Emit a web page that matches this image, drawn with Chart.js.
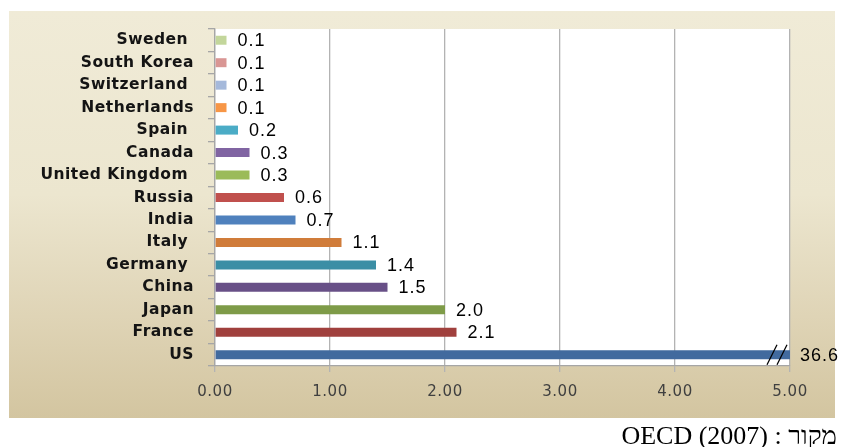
<!DOCTYPE html>
<html>
<head>
<meta charset="utf-8">
<title>R&D</title>
<script src="https://cdn.jsdelivr.net/npm/chart.js@4.4.1/dist/chart.umd.min.js"></script>
<style>
    html, body { margin: 0; padding: 0; background: #ffffff; }
    body { width: 842px; height: 447px; position: relative; overflow: hidden; }
    .panel {
        position: absolute; left: 9px; top: 11px; width: 826px; height: 407px;
        background: linear-gradient(to bottom, #f0ebd7 0%, #ece6cf 45%, #dfd4b6 75%, #d3c5a0 100%);
    }
    .wrap { position: absolute; left: 0; top: 0; width: 842px; height: 447px; }
    .source {
        position: absolute; right: 5px; top: 423px;
        font-family: "Liberation Serif", "DejaVu Serif", serif; font-size: 26px; color: #000;
        line-height: 1; direction: rtl; white-space: nowrap;
    }
</style>
</head>
<body>
<div class="panel"></div>
<div class="wrap"><canvas id="chart"></canvas></div>
<div class="source">מקור : <bdi>OECD (2007)</bdi></div>

<script>
// Countries, top row first
const countries = ['Sweden ', 'South Korea', 'Switzerland ', 'Netherlands', 'Spain ', 'Canada',
    'United Kingdom ', 'Russia', 'India', 'Italy ', 'Germany ', 'China', 'Japan', 'France', 'US'];
const values = [0.1, 0.1, 0.1, 0.1, 0.2, 0.3, 0.3, 0.6, 0.7, 1.1, 1.4, 1.5, 2.0, 2.1, 36.6];
const barColors = ['#c3d69b', '#d99694', '#a5b9db', '#f79646', '#4bacc6', '#8064a2', '#9bbb59',
    '#c0504d', '#4f81bd', '#d07c3a', '#3b8ea5', '#685087', '#7e9b48', '#a0403d', '#416a9e'];
const axisMax = 5;

// white plot area; axis text gets a little extra letter spacing
const plotBackground = {
    id: 'plotBackground',
    beforeDraw(chart) {
        const { ctx, chartArea: a } = chart;
        ctx.letterSpacing = '0.5px';
        ctx.save();
        ctx.fillStyle = '#ffffff';
        ctx.fillRect(a.left, a.top, a.right - a.left, a.bottom - a.top);
        ctx.restore();
    }
};

// value labels, plus the axis break on bars running past the axis
const valueLabels = {
    id: 'valueLabels',
    afterDatasetsDraw(chart) {
        const { ctx, chartArea: a } = chart;
        const meta = chart.getDatasetMeta(0);
        ctx.save();
        ctx.letterSpacing = '1px';
        ctx.font = '18px "Liberation Sans", Arial, sans-serif';
        ctx.fillStyle = '#000000';
        ctx.textAlign = 'left';
        ctx.textBaseline = 'middle';
        meta.data.forEach((bar, i) => {
            const v = values[i];
            if (v > axisMax) {
                ctx.strokeStyle = '#000000';
                ctx.lineWidth = 1.2;
                for (const dx of [-23, -13]) {
                    ctx.beginPath();
                    ctx.moveTo(a.right + dx, bar.y + 10);
                    ctx.lineTo(a.right + dx + 10, bar.y - 10);
                    ctx.stroke();
                }
                ctx.fillText(v.toFixed(1), a.right + 10, bar.y + 1);
            } else {
                ctx.fillText(v.toFixed(1), bar.x + 11, bar.y + 1);
            }
        });
        ctx.restore();
    }
};

new Chart(document.getElementById('chart'), {
    type: 'bar',
    data: {
        labels: countries,
        datasets: [{
            data: values,
            backgroundColor: barColors,
            borderWidth: 0,
            categoryPercentage: 1,
            barPercentage: 0.4
        }]
    },
    options: {
        indexAxis: 'y',
        responsive: true,
        maintainAspectRatio: false,
        animation: false,
        layout: { padding: { top: 29, right: 52, left: 0, bottom: 29 } },
        plugins: {
            legend: { display: false },
            tooltip: { enabled: false }
        },
        scales: {
            x: {
                type: 'linear',
                min: 0,
                max: axisMax,
                afterFit: s => { s.height = 52; },
                grid: { color: '#b3b3b3', lineWidth: 1.3, tickLength: 6 },
                border: { color: '#a6a6a6', width: 1.3 },
                ticks: {
                    stepSize: 1,
                    padding: 11,
                    color: '#404040',
                    font: { family: '"DejaVu Sans", sans-serif', size: 15 },
                    callback: v => v.toFixed(2)
                }
            },
            y: {
                afterFit: s => { s.width = 215; },
                grid: { drawOnChartArea: false, color: '#a6a6a6', tickLength: 7, lineWidth: 1.3 },
                border: { color: '#a6a6a6', width: 1.3 },
                ticks: {
                    padding: 14,
                    color: '#141414',
                    font: { family: '"DejaVu Sans", sans-serif', size: 15.5, weight: 'bold' }
                }
            }
        }
    },
    plugins: [plotBackground, valueLabels]
});
</script>
</body>
</html>
